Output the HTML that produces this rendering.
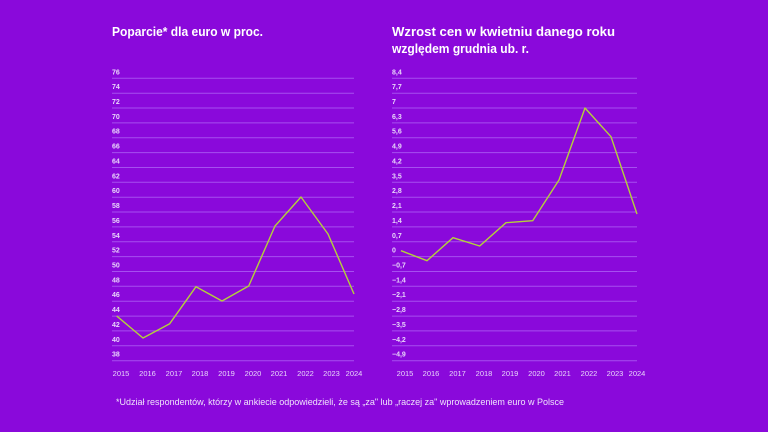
<!DOCTYPE html>
<html><head><meta charset="utf-8"><style>
html,body{margin:0;padding:0;background:#8a09db;}
svg{display:block}
text{font-family:"Liberation Sans",sans-serif;}
</style></head><body>
<svg width="768" height="432" viewBox="0 0 768 432" xmlns="http://www.w3.org/2000/svg">
<rect width="768" height="432" fill="#8a09db"/>
<g fill="#fff" font-weight="bold" font-size="13">
<text x="112" y="36" textLength="151" lengthAdjust="spacingAndGlyphs">Poparcie* dla euro w proc.</text>
<text x="392" y="36" textLength="223" lengthAdjust="spacingAndGlyphs">Wzrost cen w kwietniu danego roku</text>
<text x="392" y="53" textLength="137" lengthAdjust="spacingAndGlyphs">względem grudnia ub. r.</text>
</g>
<g stroke="#a64ff0" stroke-width="1">
<path d="M112 78.3H354M112 93.2H354M112 108H354M112 122.9H354M112 137.7H354M112 152.6H354M112 167.5H354M112 182.3H354M112 197.2H354M112 212H354M112 226.9H354M112 241.8H354M112 256.6H354M112 271.5H354M112 286.3H354M112 301.2H354M112 316.1H354M112 330.9H354M112 345.8H354M112 360.7H354"/>
<path d="M392 78.3H637M392 93.2H637M392 108H637M392 122.9H637M392 137.7H637M392 152.6H637M392 167.5H637M392 182.3H637M392 197.2H637M392 212H637M392 226.9H637M392 241.8H637M392 256.6H637M392 271.5H637M392 286.3H637M392 301.2H637M392 316.1H637M392 330.9H637M392 345.8H637M392 360.7H637"/>
</g>
<g fill="#e8d6fa" font-size="7" font-weight="bold">
<text x="112" y="74.3">76</text><text x="112" y="89.2">74</text><text x="112" y="104">72</text><text x="112" y="118.9">70</text><text x="112" y="133.7">68</text><text x="112" y="148.6">66</text><text x="112" y="163.5">64</text><text x="112" y="178.3">62</text><text x="112" y="193.2">60</text><text x="112" y="208">58</text><text x="112" y="222.9">56</text><text x="112" y="237.8">54</text><text x="112" y="252.6">52</text><text x="112" y="267.5">50</text><text x="112" y="282.3">48</text><text x="112" y="297.2">46</text><text x="112" y="312.1">44</text><text x="112" y="326.9">42</text><text x="112" y="341.8">40</text><text x="112" y="356.7">38</text>
<text x="392" y="74.3">8,4</text><text x="392" y="89.2">7,7</text><text x="392" y="104">7</text><text x="392" y="118.9">6,3</text><text x="392" y="133.7">5,6</text><text x="392" y="148.6">4,9</text><text x="392" y="163.5">4,2</text><text x="392" y="178.3">3,5</text><text x="392" y="193.2">2,8</text><text x="392" y="208">2,1</text><text x="392" y="222.9">1,4</text><text x="392" y="237.8">0,7</text><text x="392" y="252.6">0</text><text x="392" y="267.5">−0,7</text><text x="392" y="282.3">−1,4</text><text x="392" y="297.2">−2,1</text><text x="392" y="312.1">−2,8</text><text x="392" y="326.9">−3,5</text><text x="392" y="341.8">−4,2</text><text x="392" y="356.7">−4,9</text>
</g>
<g fill="#e8d6fa" font-size="7.5" text-anchor="middle">
<text x="121" y="376">2015</text><text x="147.5" y="376">2016</text><text x="174" y="376">2017</text><text x="200" y="376">2018</text><text x="226.5" y="376">2019</text><text x="253" y="376">2020</text><text x="279" y="376">2021</text><text x="305.5" y="376">2022</text><text x="331.5" y="376">2023</text><text x="354" y="376">2024</text>
<text x="405" y="376">2015</text><text x="431" y="376">2016</text><text x="457.5" y="376">2017</text><text x="484" y="376">2018</text><text x="510" y="376">2019</text><text x="536.5" y="376">2020</text><text x="562.5" y="376">2021</text><text x="589" y="376">2022</text><text x="615" y="376">2023</text><text x="637" y="376">2024</text>
</g>
<g fill="none" stroke="#b4d13a" stroke-width="1.4" stroke-linejoin="round">
<polyline points="116.7,316 143,338 169.7,323.7 196,286.7 222,301 248.7,286 275,226 301,197 328,234 354,294"/>
<polyline points="401,250.7 427,260.7 453,237.7 479.7,246 506,222.7 532.7,220.7 559,180 585,108 611,136.7 637,214"/>
</g>
<text x="116" y="405" fill="#f0e4fc" font-size="9.5" textLength="448" lengthAdjust="spacingAndGlyphs">*Udział respondentów, którzy w ankiecie odpowiedzieli, że są „za" lub „raczej za" wprowadzeniem euro w Polsce</text>
</svg>
</body></html>
